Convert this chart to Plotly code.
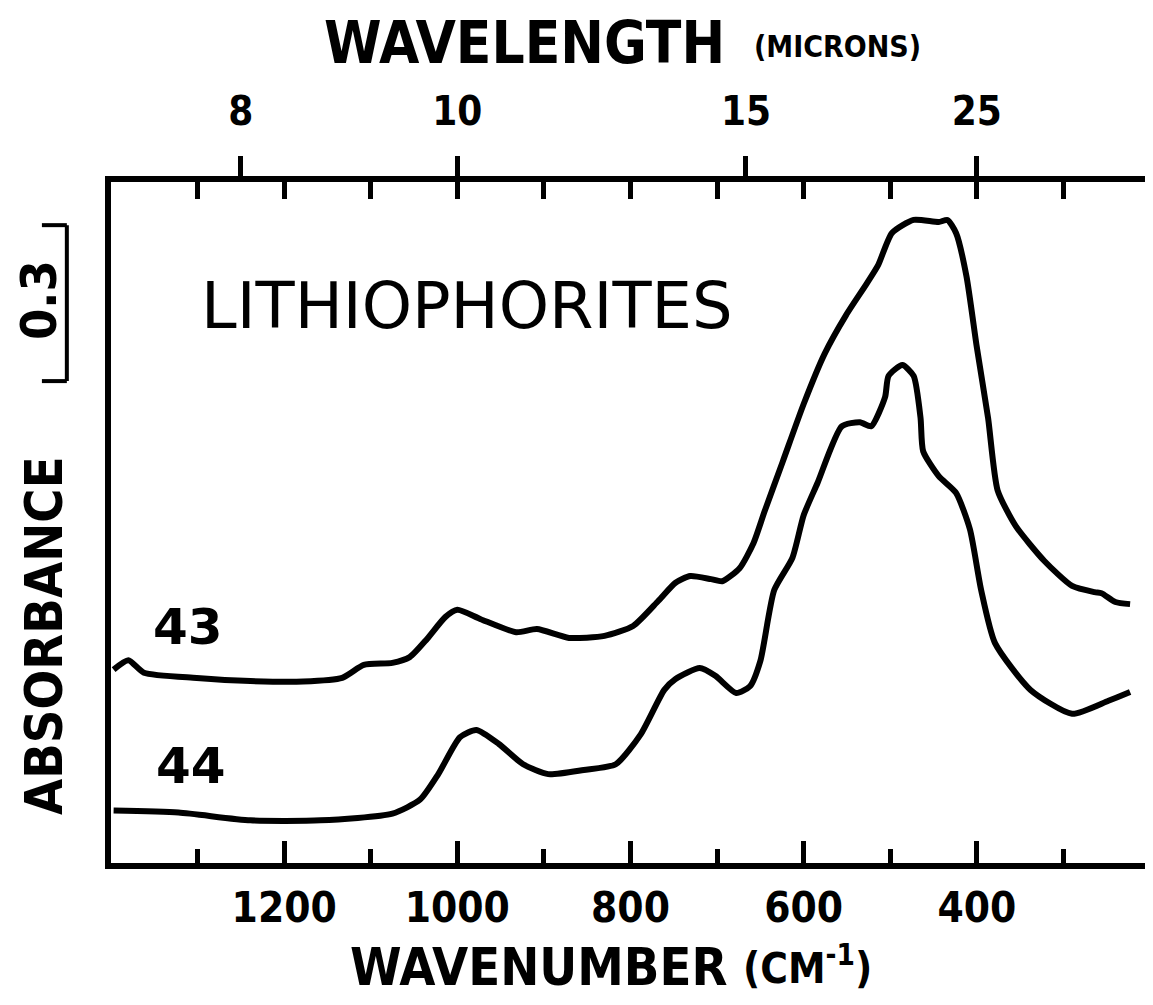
import plotly.graph_objects as go

# ---- data (wavenumber in cm-1, absorbance in arbitrary offset units) ----
wn_43 = [1397, 1380, 1362, 1301, 1239, 1178, 1133, 1108, 1075, 1055, 1035, 1014, 1000, 973, 932,
         908, 871, 830, 797, 768, 748, 731, 707, 694, 674, 658, 645, 624, 600, 576, 551, 527, 514,
         498, 473, 444, 434, 424, 412, 400, 387, 376, 355, 322, 290, 264, 256, 240, 223]
abs_43 = [0.372, 0.390, 0.366, 0.356, 0.350, 0.349, 0.356, 0.381, 0.385, 0.396, 0.431, 0.473, 0.487,
          0.469, 0.444, 0.450, 0.433, 0.437, 0.456, 0.504, 0.539, 0.552, 0.546, 0.542, 0.567, 0.615,
          0.677, 0.773, 0.883, 0.979, 1.054, 1.115, 1.150, 1.212, 1.237, 1.233, 1.237, 1.212, 1.129,
          0.992, 0.856, 0.717, 0.648, 0.581, 0.533, 0.521, 0.519, 0.502, 0.498]

wn_44 = [1397, 1322, 1239, 1158, 1075, 1043, 1022, 997, 978, 952, 924, 895, 854, 817, 788, 761,
         748, 720, 702, 678, 662, 650, 634, 613, 600, 584, 556, 535, 522, 506, 502, 486, 473, 465,
         462, 444, 424, 408, 395, 379, 338, 290, 248, 223]
abs_44 = [0.101, 0.097, 0.082, 0.082, 0.095, 0.122, 0.171, 0.242, 0.256, 0.229, 0.190, 0.171, 0.179,
          0.190, 0.248, 0.333, 0.354, 0.375, 0.360, 0.327, 0.340, 0.389, 0.525, 0.587, 0.669, 0.731,
          0.840, 0.848, 0.840, 0.896, 0.937, 0.958, 0.937, 0.856, 0.792, 0.744, 0.712, 0.642, 0.525,
          0.423, 0.333, 0.287, 0.312, 0.329]

wn_range = [1400, 200]
abs_range = [0.0, 1.31]
major_wn_ticks = [1200, 1000, 800, 600, 400]
minor_wn_ticks = [1300, 1100, 900, 700, 500, 300]
top_inner_ticks = [1300, 1200, 1100, 1000, 900, 800, 700, 600, 500, 400, 300]
wavelength_ticks = [8, 10, 15, 25]          # microns
scale_bar = [0.927, 1.227]                  # a 0.3 absorbance bar

PLOTTER = "Liberation Sans Narrow, DejaVu Sans Condensed, Liberation Sans, Arial, sans-serif"
LETTER = "DejaVu Sans, Verdana, sans-serif"
INK = "black"

fig = go.Figure()
line_style = dict(color=INK, width=6, shape="spline", smoothing=0.6)
fig.add_trace(go.Scatter(x=wn_43, y=abs_43, mode="lines", line=line_style, name="43",
                         showlegend=False, hoverinfo="x+y"))
fig.add_trace(go.Scatter(x=wn_44, y=abs_44, mode="lines", line=line_style, name="44",
                         showlegend=False, hoverinfo="x+y"))
# carrier traces for the top axes
fig.add_trace(go.Scatter(x=wn_range, y=[None, None], xaxis="x2", yaxis="y",
                         mode="lines", showlegend=False, hoverinfo="skip"))
fig.add_trace(go.Scatter(x=wn_range, y=[None, None], xaxis="x3", yaxis="y",
                         mode="lines", showlegend=False, hoverinfo="skip"))

fig.update_layout(
    width=1153, height=1005,
    margin=dict(l=103, r=5, t=174, b=150, pad=0),
    paper_bgcolor="white", plot_bgcolor="white",
    showlegend=False,
    xaxis=dict(
        range=wn_range, showgrid=False, zeroline=False,
        showline=True, linecolor=INK, linewidth=6, mirror=True,
        tickmode="array", tickvals=major_wn_ticks,
        ticktext=[str(v) for v in major_wn_ticks],
        ticks="inside", ticklen=22, tickwidth=5, tickcolor=INK,
        tickfont=dict(family=PLOTTER, size=42, color=INK, weight="bold"),
        ticklabelstandoff=3,
        minor=dict(tickmode="array", tickvals=minor_wn_ticks, ticks="inside",
                   ticklen=14, tickwidth=5, tickcolor=INK, showgrid=False),
    ),
    xaxis2=dict(
        range=wn_range, overlaying="x", side="top", anchor="y",
        showgrid=False, zeroline=False, showline=False,
        tickmode="array", tickvals=[1e4 / w for w in wavelength_ticks],
        ticktext=[str(w) for w in wavelength_ticks],
        ticks="outside", ticklen=25, tickwidth=5, tickcolor=INK,
        tickfont=dict(family=PLOTTER, size=40, color=INK, weight="bold"),
        ticklabelstandoff=15,
    ),
    xaxis3=dict(
        range=wn_range, overlaying="x", side="top", anchor="y",
        showgrid=False, zeroline=False, showline=False,
        tickmode="array", tickvals=top_inner_ticks, showticklabels=False,
        ticks="inside", ticklen=17, tickwidth=5, tickcolor=INK,
    ),
    yaxis=dict(
        range=abs_range, showgrid=False, zeroline=False,
        showline=True, linecolor=INK, linewidth=6, mirror=True,
        ticks="", showticklabels=False,
    ),
)

# scale bar (0.3 absorbance)
bar_x, bar_tick = -0.0425, -0.0665
fig.add_shape(type="line", xref="paper", yref="y", x0=bar_x, x1=bar_x,
              y0=scale_bar[0], y1=scale_bar[1], line=dict(color=INK, width=4))
for yv in scale_bar:
    fig.add_shape(type="line", xref="paper", yref="y", x0=bar_tick, x1=bar_x,
                  y0=yv, y1=yv, line=dict(color=INK, width=4))

def note(text, x, y, font, angle=0):
    fig.add_annotation(text=text, x=x, y=y, xref="paper", yref="paper",
                       xanchor="center", yanchor="middle", showarrow=False,
                       textangle=angle, font=font)

note("0.3", -0.0700, (scale_bar[0] + scale_bar[1]) / 2 / abs_range[1] + 0.005,
     dict(family=PLOTTER, size=50, color=INK, weight="bold"), -90)
note("ABSORBANCE", -0.0650, 0.334, dict(family=PLOTTER, size=52, color=INK, weight="bold"), -90)
note("WAVELENGTH", 0.398, 1.204, dict(family=PLOTTER, size=58, color=INK, weight="bold"))
note("(MICRONS)", 0.6995, 1.199, dict(family=PLOTTER, size=30, color=INK, weight="bold"))
note("WAVENUMBER", 0.4110, -0.153, dict(family=PLOTTER, size=52, color=INK, weight="bold"))
note("(CM<sup>-1</sup>)", 0.670, -0.151, dict(family=PLOTTER, size=42, color=INK, weight="bold"))
note("LITHIOPHORITES", 0.3426, 0.818, dict(family=LETTER, size=64, color=INK))
note("43", 0.0740, 0.347, dict(family=LETTER, size=50, color=INK, weight="bold"))
note("44", 0.0770, 0.142, dict(family=LETTER, size=50, color=INK, weight="bold"))

fig.write_html("out.html")
